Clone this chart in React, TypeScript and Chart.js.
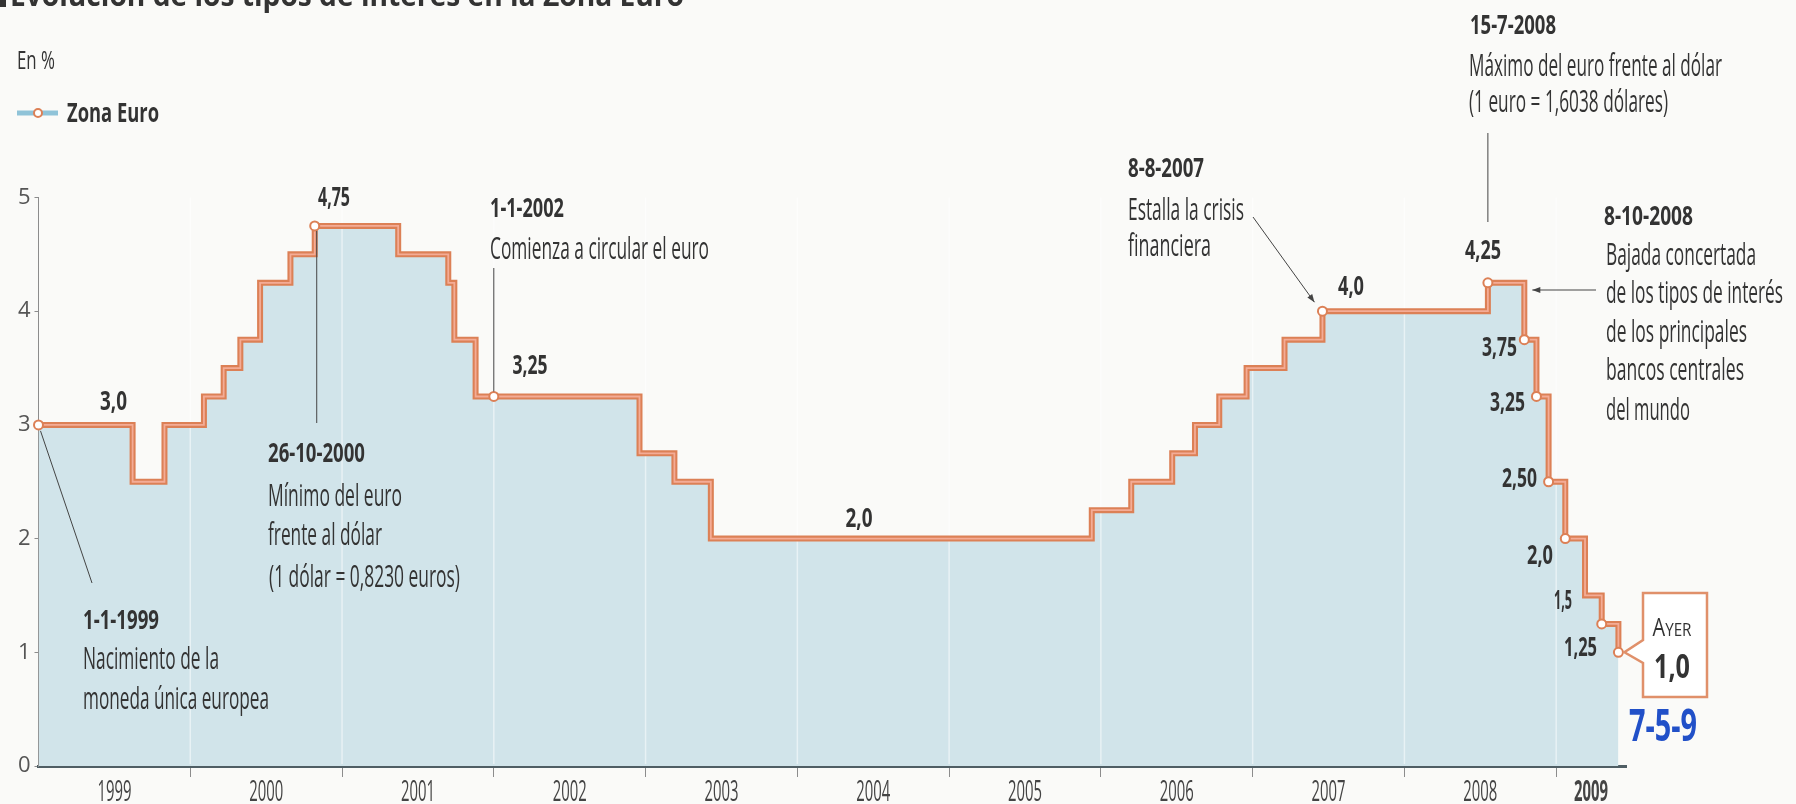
import React, { useEffect, useRef } from 'react';
import { Chart, registerables } from 'chart.js';

Chart.register(...registerables);

// ---------- Data ----------
// Fractional year at which each rate level starts
const changeYears = [
  1999.0, 1999.62, 1999.83, 2000.09, 2000.22, 2000.33, 2000.46, 2000.66, 2000.82,
  2001.37, 2001.70, 2001.74, 2001.88, 2002.96, 2003.19, 2003.43, 2005.94, 2006.20,
  2006.47, 2006.62, 2006.78, 2006.96, 2007.21, 2007.46, 2008.55, 2008.79, 2008.87,
  2008.95, 2009.06, 2009.19, 2009.30, 2009.41,
];
// Main refinancing rate of the euro zone (%)
const rates = [
  3.0, 2.5, 3.0, 3.25, 3.5, 3.75, 4.25, 4.5, 4.75,
  4.5, 4.25, 3.75, 3.25, 2.75, 2.5, 2.0, 2.25, 2.5,
  2.75, 3.0, 3.25, 3.5, 3.75, 4.0, 4.25, 3.75, 3.25,
  2.5, 2.0, 1.5, 1.25, 1.0,
];
// Highlighted points (ring markers)
const markerYears = [1999.0, 2000.82, 2002.0, 2007.46, 2008.55, 2008.79, 2008.87, 2008.95, 2009.06, 2009.30, 2009.41];
const markerRates = [3.0, 4.75, 3.25, 4.0, 4.25, 3.75, 3.25, 2.5, 2.0, 1.25, 1.0];

const yTicks = [0, 1, 2, 3, 4, 5];
const yearBoundaries = [2000, 2001, 2002, 2003, 2004, 2005, 2006, 2007, 2008, 2009];
const yearLabels = ['1999', '2000', '2001', '2002', '2003', '2004', '2005', '2006', '2007', '2008', '2009'];
const yearLabelYears = [1999.5, 2000.5, 2001.5, 2002.5, 2003.5, 2004.5, 2005.5, 2006.5, 2007.5, 2008.5, 2009.23];
const xMin = 1999;
const xMax = 2009.46;
const yMin = 0;
const yMax = 5;

// ---------- Styles / layout ----------
const FONT = '"Open Sans", "Noto Sans", sans-serif';
const TEXT = '#333333';
const LINE_OUTER = '#dc8056';
const LINE_INNER = '#f4ac96';
const FILL = '#d1e4ea';
const BG = '#fafaf8';

const R = 31; // regular annotation size
const D = 27.5; // bold date size
const V = 26.5; // value label size

type Txt = [string, number, number, number, number, boolean, CanvasTextAlign];
// text, x, centerY, width, size, bold, align
const notes: Txt[] = [
  ['En %', 17, 60, 38, 25, false, 'left'],
  ['Zona Euro', 67, 113, 92, 26, true, 'left'],
  ['3,0', 113.5, 401, 27, V, true, 'center'],
  ['4,75', 334, 197, 32, V, true, 'center'],
  ['1-1-2002', 490, 207, 74, D, true, 'left'],
  ['Comienza a circular el euro', 490, 248, 219, R, false, 'left'],
  ['3,25', 530, 365, 35, V, true, 'center'],
  ['26-10-2000', 268, 452, 97, D, true, 'left'],
  ['Mínimo del euro', 268, 495, 134, R, false, 'left'],
  ['frente al dólar', 268, 534, 114, R, false, 'left'],
  ['(1 dólar = 0,8230 euros)', 269, 576, 191, R, false, 'left'],
  ['1-1-1999', 83, 619, 76, D, true, 'left'],
  ['Nacimiento de la', 83, 658, 136, R, false, 'left'],
  ['moneda única europea', 83, 698, 186, R, false, 'left'],
  ['2,0', 859, 518, 27, V, true, 'center'],
  ['8-8-2007', 1128, 167.5, 76, D, true, 'left'],
  ['Estalla la crisis', 1128, 209, 116, R, false, 'left'],
  ['financiera', 1128, 245, 83, R, false, 'left'],
  ['4,0', 1351, 286, 26, V, true, 'center'],
  ['15-7-2008', 1470, 24, 86, D, true, 'left'],
  ['Máximo del euro frente al dólar', 1469, 65, 253, R, false, 'left'],
  ['(1 euro = 1,6038 dólares)', 1469, 101, 199, R, false, 'left'],
  ['4,25', 1483, 250, 36, V, true, 'center'],
  ['8-10-2008', 1604, 215, 89, D, true, 'left'],
  ['Bajada concertada', 1606, 254, 150, R, false, 'left'],
  ['de los tipos de interés', 1606, 292, 177, R, false, 'left'],
  ['de los principales', 1606, 331, 141, R, false, 'left'],
  ['bancos centrales', 1606, 369, 138, R, false, 'left'],
  ['del mundo', 1606, 409, 84, R, false, 'left'],
  ['3,75', 1517, 347, 35, V, true, 'right'],
  ['3,25', 1525, 402, 35, V, true, 'right'],
  ['2,50', 1537, 478, 35, V, true, 'right'],
  ['2,0', 1553, 555, 26, V, true, 'right'],
  ['1,5', 1572, 600, 18, V, true, 'right'],
  ['1,25', 1597, 647, 33, V, true, 'right'],
];

function drawText(
  ctx: CanvasRenderingContext2D, s: string, x: number, cy: number, w: number,
  size: number, bold: boolean, align: CanvasTextAlign, color = TEXT,
) {
  ctx.save();
  ctx.font = `${bold ? 'bold ' : ''}${size}px ${FONT}`;
  ctx.fillStyle = color;
  ctx.textAlign = align;
  ctx.textBaseline = 'alphabetic';
  ctx.fillText(s, x, cy + size * 0.357, w);
  ctx.restore();
}

function line(ctx: CanvasRenderingContext2D, x1: number, y1: number, x2: number, y2: number) {
  ctx.beginPath();
  ctx.moveTo(x1, y1);
  ctx.lineTo(x2, y2);
  ctx.stroke();
}

function arrow(ctx: CanvasRenderingContext2D, x1: number, y1: number, x2: number, y2: number) {
  line(ctx, x1, y1, x2, y2);
  const a = Math.atan2(y2 - y1, x2 - x1);
  const L = 8;
  const W = 3;
  ctx.beginPath();
  ctx.moveTo(x2, y2);
  ctx.lineTo(x2 - L * Math.cos(a) + W * Math.sin(a), y2 - L * Math.sin(a) - W * Math.cos(a));
  ctx.lineTo(x2 - L * Math.cos(a) - W * Math.sin(a), y2 - L * Math.sin(a) + W * Math.cos(a));
  ctx.closePath();
  ctx.fill();
}

const bgPlugin = {
  id: 'bg',
  beforeDraw(chart: any) {
    const { ctx, width, height } = chart;
    ctx.save();
    ctx.fillStyle = BG;
    ctx.fillRect(0, 0, width, height);
    ctx.restore();
  },
  afterDatasetDraw(chart: any, args: any) {
    if (args.index !== 0) return;
    const { ctx, chartArea } = chart;
    const xs = chart.scales.x;
    ctx.save();
    ctx.strokeStyle = 'rgba(255,255,255,0.5)';
    ctx.lineWidth = 1.5;
    yearBoundaries.forEach((v) => {
      const px = xs.getPixelForValue(v);
      line(ctx, px, chartArea.top, px, chartArea.bottom - 2);
    });
    ctx.restore();
  },
};

const notesPlugin = {
  id: 'notes',
  afterDraw(chart: any) {
    const { ctx } = chart;
    const xs = chart.scales.x;
    const ys = chart.scales.y;
    const X = (v: number) => xs.getPixelForValue(v);
    const Y = (v: number) => ys.getPixelForValue(v);

    // Title (cut at the top edge)
    ctx.save();
    ctx.fillStyle = '#333';
    ctx.fillRect(-3, -4, 9, 11);
    ctx.restore();
    drawText(ctx, 'Evolución de los tipos de interés en la Zona Euro', 10, -5, 674, 30, true, 'left', '#333');

    // Year labels
    yearLabels.forEach((lab, i) => {
      drawText(ctx, lab, X(yearLabelYears[i]), 791, 34, 29, i === yearLabels.length - 1, 'center', '#444');
    });

    // Legend icon
    ctx.save();
    ctx.strokeStyle = '#8fc3d8';
    ctx.lineWidth = 5;
    line(ctx, 17, 113, 58, 113);
    ctx.beginPath();
    ctx.arc(38, 113, 4, 0, Math.PI * 2);
    ctx.fillStyle = '#fff';
    ctx.fill();
    ctx.lineWidth = 2;
    ctx.strokeStyle = LINE_OUTER;
    ctx.stroke();
    ctx.restore();

    // Texts
    notes.forEach(([s, x, y, w, size, b, a]) => drawText(ctx, s, x, y, w, size, b, a));

    // Leader lines and arrows
    ctx.save();
    ctx.strokeStyle = '#444';
    ctx.fillStyle = '#444';
    ctx.lineWidth = 1;
    line(ctx, X(markerYears[0]) + 2, Y(markerRates[0]) + 6, 92, 583);
    line(ctx, X(markerYears[1]) + 2, Y(markerRates[1]) + 5, X(markerYears[1]) + 2, 423);
    line(ctx, X(markerYears[2]), 268, X(markerYears[2]), Y(markerRates[2]) - 5);
    arrow(ctx, 1253, 217, X(markerYears[3]) - 8, Y(markerRates[3]) - 9);
    line(ctx, X(markerYears[4]), 133, X(markerYears[4]), 222);
    arrow(ctx, 1596, 290, X(markerYears[5]) + 8, 290);
    ctx.restore();

    // "Ayer" callout box
    const L = 1643, Rr = 1707, T = 593, B = 697;
    const tipX = X(markerYears[10]) + 6;
    const tipY = Y(markerRates[10]);
    ctx.save();
    ctx.beginPath();
    ctx.moveTo(L, T);
    ctx.lineTo(Rr, T);
    ctx.lineTo(Rr, B);
    ctx.lineTo(L, B);
    ctx.lineTo(L, 663);
    ctx.lineTo(tipX, tipY);
    ctx.lineTo(L, 640);
    ctx.closePath();
    ctx.fillStyle = '#fff';
    ctx.fill();
    ctx.strokeStyle = '#e0906a';
    ctx.lineWidth = 2.5;
    ctx.stroke();
    ctx.restore();
    // AYER in small caps
    ctx.save();
    ctx.fillStyle = TEXT;
    ctx.textBaseline = 'alphabetic';
    ctx.font = `25px ${FONT}`;
    const wA = ctx.measureText('A').width;
    ctx.font = `19px ${FONT}`;
    const wY = ctx.measureText('YER').width;
    const k = Math.min(1, 39 / (wA + wY));
    ctx.translate(1672 - 19.5, 636);
    ctx.scale(k, 1);
    ctx.font = `25px ${FONT}`;
    ctx.fillText('A', 0, 0);
    ctx.font = `19px ${FONT}`;
    ctx.fillText('YER', wA, 0);
    ctx.restore();
    drawText(ctx, '1,0', 1672, 666, 36, 34, true, 'center');

    // handwritten date
    drawText(ctx, '7-5-9', 1663, 725, 68, 44, true, 'center', '#2150c8');
  },
};

export default function App() {
  const ref = useRef<HTMLCanvasElement | null>(null);

  useEffect(() => {
    if (!ref.current) return;
    const pts = changeYears.map((x, i) => ({ x, y: rates[i] }));
    const marks = markerYears.map((x, i) => ({ x, y: markerRates[i] }));
    const chart = new Chart(ref.current, {
      type: 'line',
      data: {
        datasets: [
          {
            label: 'fill',
            data: pts,
            stepped: 'before',
            fill: 'origin',
            backgroundColor: FILL,
            borderColor: 'rgba(0,0,0,0)',
            borderWidth: 1,
            pointRadius: 0,
            order: 4,
            clip: false,
          } as any,
          {
            label: 'Zona Euro',
            data: pts,
            stepped: 'before',
            fill: false,
            borderColor: LINE_OUTER,
            borderWidth: 6,
            borderJoinStyle: 'miter',
            borderCapStyle: 'butt',
            pointRadius: 0,
            order: 3,
            clip: false,
          } as any,
          {
            label: 'inner',
            data: pts,
            stepped: 'before',
            fill: false,
            borderColor: LINE_INNER,
            borderWidth: 1.8,
            borderJoinStyle: 'miter',
            pointRadius: 0,
            order: 2,
            clip: false,
          } as any,
          {
            label: 'markers',
            data: marks,
            showLine: false,
            pointRadius: 4.5,
            pointBorderWidth: 2,
            pointBackgroundColor: '#ffffff',
            pointBorderColor: LINE_OUTER,
            order: 1,
            clip: false,
          } as any,
        ],
      },
      options: {
        animation: false,
        responsive: false,
        maintainAspectRatio: false,
        layout: { padding: { left: 0, right: 170, top: 197.5, bottom: 0 } },
        plugins: { legend: { display: false }, tooltip: { enabled: false } },
        scales: {
          x: {
            type: 'linear',
            min: xMin,
            max: xMax,
            afterBuildTicks: (s: any) => { s.ticks = yearBoundaries.map((v) => ({ value: v })); },
            ticks: { display: false },
            grid: { display: true, drawOnChartArea: false, drawTicks: true, tickLength: 11, color: '#8c8c8c', lineWidth: 1 },
            border: { display: true, color: '#4f5e64', width: 3 },
            afterFit: (s: any) => { s.height = 38; },
          },
          y: {
            min: yMin,
            max: yMax,
            afterBuildTicks: (s: any) => { s.ticks = yTicks.map((v) => ({ value: v })); },
            ticks: { font: { family: FONT, size: 22 }, color: '#555', padding: 4 },
            grid: { display: true, drawOnChartArea: false, drawTicks: true, tickLength: 4, color: '#8c8c8c' },
            border: { display: true, color: '#8c8c8c', width: 1 },
            afterFit: (s: any) => { s.width = 38.5; },
          },
        },
      } as any,
      plugins: [bgPlugin, notesPlugin],
    });
    return () => chart.destroy();
  }, []);

  return (
    <div style={{ position: 'absolute', left: 0, top: 0, width: 1796, height: 804, overflow: 'hidden' }}>
      <canvas ref={ref} width={1796} height={804} style={{ width: 1796, height: 804, display: 'block' }} />
    </div>
  );
}
